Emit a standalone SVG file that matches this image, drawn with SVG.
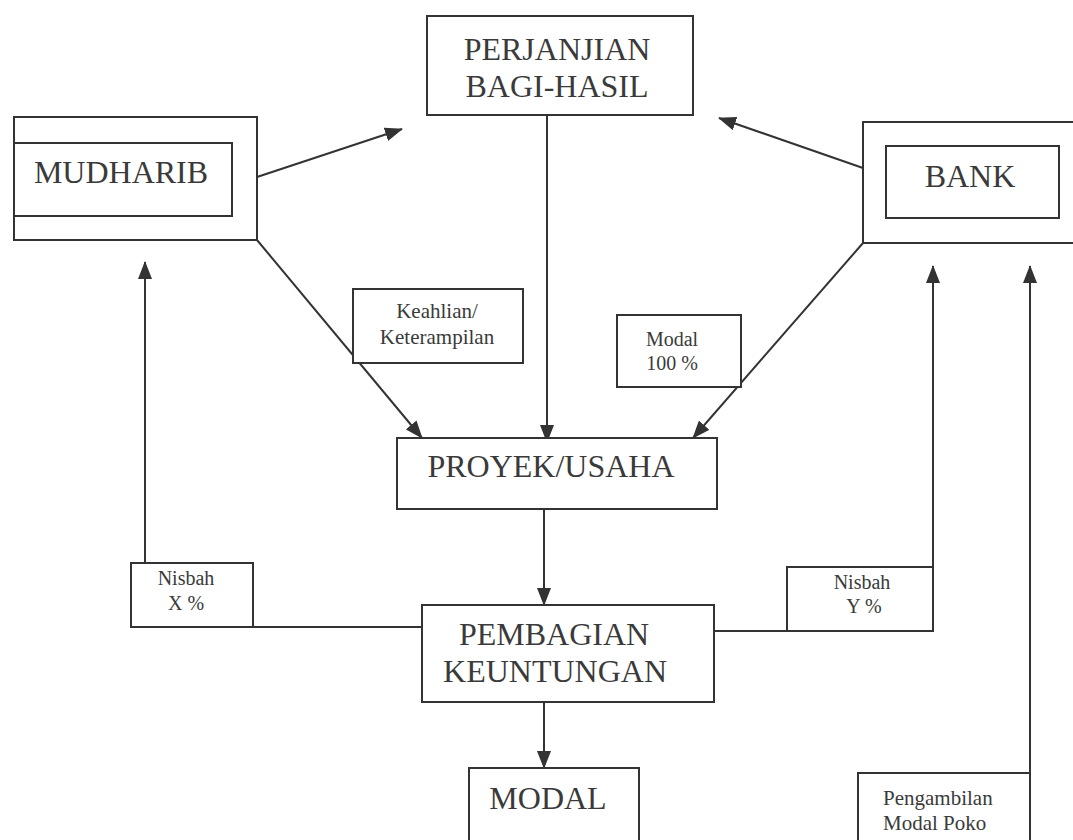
<svg xmlns="http://www.w3.org/2000/svg" width="1073" height="840" viewBox="0 0 1073 840">
<defs>
<marker id="arr" markerUnits="userSpaceOnUse" markerWidth="18" markerHeight="14" refX="17" refY="7" orient="auto">
<path d="M0,0 L18,7 L0,14 z" fill="#333"/>
</marker>
<style>
.box{fill:#fff;stroke:#333;stroke-width:2}
.ln{fill:none;stroke:#333;stroke-width:2}
.big{font-family:"Liberation Serif",serif;font-size:32px;fill:#3a3a3a;text-anchor:middle}
.sm{font-family:"Liberation Serif",serif;font-size:20px;fill:#3a3a3a;text-anchor:middle}
</style>
</defs>
<rect width="1073" height="840" fill="#fff"/>
<g id="connectors">
<line class="ln" x1="257" y1="177" x2="402" y2="129" marker-end="url(#arr)"/>
<line class="ln" x1="863" y1="168" x2="719" y2="118" marker-end="url(#arr)"/>
<line class="ln" x1="547" y1="115" x2="547" y2="442" marker-end="url(#arr)"/>
<line class="ln" x1="257" y1="240" x2="422" y2="438" marker-end="url(#arr)"/>
<line class="ln" x1="863" y1="243" x2="693" y2="438" marker-end="url(#arr)"/>
<line class="ln" x1="544" y1="509" x2="544" y2="605" marker-end="url(#arr)"/>
<line class="ln" x1="544" y1="702" x2="544" y2="768" marker-end="url(#arr)"/>
<line class="ln" x1="253" y1="627" x2="422" y2="627"/>
<line class="ln" x1="145" y1="563" x2="145" y2="262" marker-end="url(#arr)"/>
<line class="ln" x1="714" y1="631" x2="787" y2="631"/>
<line class="ln" x1="933" y1="567" x2="933" y2="266" marker-end="url(#arr)"/>
<line class="ln" x1="1030" y1="773" x2="1030" y2="266" marker-end="url(#arr)"/>
</g>
<g id="perjanjian">
<rect class="box" x="427" y="16" width="266" height="99"/>
<text class="big" x="557" y="60">PERJANJIAN</text>
<text class="big" x="557" y="97">BAGI-HASIL</text>
</g>
<g id="mudharib">
<rect class="box" x="14" y="117" width="243" height="123"/>
<rect class="box" x="14" y="143" width="218" height="73"/>
<text class="big" x="121" y="183">MUDHARIB</text>
</g>
<g id="bank">
<rect class="box" x="863" y="122" width="220" height="121"/>
<rect class="box" x="886" y="146" width="173" height="72"/>
<text class="big" x="970" y="187">BANK</text>
</g>
<g id="keahlian">
<rect class="box" x="353" y="289" width="170" height="74"/>
<text class="sm" x="437" y="318" style="font-size:21px">Keahlian/</text>
<text class="sm" x="437" y="344" style="font-size:21px">Keterampilan</text>
</g>
<g id="modal100">
<rect class="box" x="617" y="315" width="124" height="72"/>
<text class="sm" x="672" y="346">Modal</text>
<text class="sm" x="672" y="370">100 %</text>
</g>
<g id="proyek">
<rect class="box" x="397" y="438" width="320" height="71"/>
<text class="big" x="551" y="477">PROYEK/USAHA</text>
</g>
<g id="nisbahx">
<rect class="box" x="131" y="563" width="122" height="64"/>
<text class="sm" x="186" y="585">Nisbah</text>
<text class="sm" x="186" y="610">X %</text>
</g>
<g id="nisbahy">
<rect class="box" x="787" y="567" width="146" height="64"/>
<text class="sm" x="862" y="589">Nisbah</text>
<text class="sm" x="864" y="613">Y %</text>
</g>
<g id="pembagian">
<rect class="box" x="422" y="605" width="292" height="97"/>
<text class="big" x="554" y="645">PEMBAGIAN</text>
<text class="big" x="555" y="682">KEUNTUNGAN</text>
</g>
<g id="modal">
<rect class="box" x="469" y="768" width="170" height="90"/>
<text class="big" x="548" y="809">MODAL</text>
</g>
<g id="pengambilan">
<rect class="box" x="858" y="773" width="172" height="90"/>
<text class="sm" x="883" y="805" style="font-size:21px;text-anchor:start">Pengambilan</text>
<text class="sm" x="883" y="830" style="font-size:21px;text-anchor:start">Modal Poko</text>
</g>
</svg>
